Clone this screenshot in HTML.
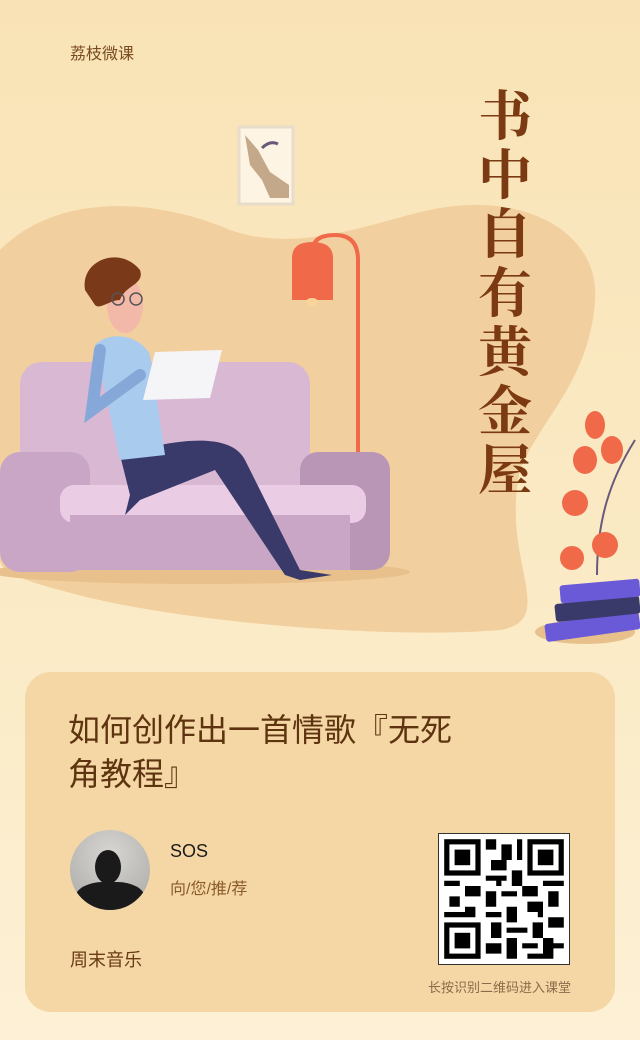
<!DOCTYPE html>
<html><head><meta charset="utf-8"><style>
body{margin:0;width:640px;height:1040px;overflow:hidden;background:linear-gradient(#f9e3b6,#fbecc9 70%,#fdf0d6);font-family:"Liberation Sans","Noto Sans CJK SC",sans-serif;position:relative}
.abs{position:absolute}
</style></head><body>
<div class="abs" style="left:70px;top:40px;font-size:16px;color:#7a4a20">荔枝微课</div>
<svg class="abs" style="left:0;top:0" width="640" height="660">
<path d="M0 250 C60 190 160 200 230 230 C300 255 380 220 430 210 C520 190 600 230 595 300 C590 380 540 420 520 470 C500 560 560 620 500 630 C380 640 160 620 60 590 C20 580 0 570 0 560 Z" fill="#f2cf9e"/>
<ellipse cx="200" cy="572" rx="210" ry="12" fill="#e8c08c"/>
<ellipse cx="585" cy="632" rx="50" ry="12" fill="#e8c08c"/>
<rect x="239" y="127" width="54" height="77" fill="#fdf4e4" stroke="#e8dccb" stroke-width="3"/>
<path d="M245 135 L250 165 L262 180 L270 198 L289 198 L289 185 L270 172 L258 150 Z" fill="#c4a88a"/>
<path d="M262 148 Q270 140 278 144" stroke="#6a5a7a" stroke-width="3" fill="none"/>
<path d="M313 270 L313 250 Q313 235 335 235 Q358 235 358 260 L358 455" stroke="#f06a4a" stroke-width="4" fill="none"/>
<path d="M292 300 L292 258 Q292 242 312 242 Q333 242 333 258 L333 300 Z" fill="#f06a4a"/>
<ellipse cx="312" cy="302" rx="6" ry="4" fill="#f9d49a"/>
<rect x="20" y="362" width="290" height="160" rx="22" fill="#d9b8d4"/>
<rect x="300" y="452" width="90" height="118" rx="18" fill="#b996b6"/>
<rect x="0" y="452" width="90" height="120" rx="20" fill="#c9a6c6"/>
<rect x="60" y="485" width="306" height="38" rx="14" fill="#eacce4"/>
<rect x="70" y="515" width="280" height="55" fill="#c9a6c6"/>
<path d="M120 455 C170 440 230 430 245 460 L300 570 L332 575 L300 580 L285 575 L215 470 L140 500 L125 515 L130 495 Z" fill="#3a3a6a"/>
<path d="M95 345 C110 330 140 335 150 355 L165 455 L120 460 Z" fill="#a8cbee"/>
<path d="M100 350 L92 410 L140 375" stroke="#86a8d8" stroke-width="12" fill="none" stroke-linecap="round"/>
<polygon points="155,352 222,350 210,398 143,400" fill="#f5f5f7"/>
<ellipse cx="125" cy="305" rx="18" ry="28" fill="#f2b8a8"/>
<path d="M85 290 C80 260 120 245 140 270 C145 285 125 285 120 300 C110 300 100 310 95 305 Z" fill="#7a3a1a"/>
<circle cx="118" cy="299" r="6" fill="none" stroke="#555" stroke-width="1.5"/><circle cx="136" cy="299" r="6" fill="none" stroke="#555" stroke-width="1.5"/>
<path d="M597 575 C597 520 610 480 635 440" stroke="#6a5a7a" stroke-width="2" fill="none"/>
<ellipse cx="595" cy="425" rx="10" ry="14" fill="#f06a4a"/><ellipse cx="612" cy="450" rx="11" ry="14" fill="#f06a4a"/>
<ellipse cx="585" cy="460" rx="12" ry="14" fill="#f06a4a"/><ellipse cx="575" cy="503" rx="13" ry="13" fill="#f06a4a"/>
<ellipse cx="605" cy="545" rx="13" ry="13" fill="#f06a4a"/><ellipse cx="572" cy="558" rx="12" ry="12" fill="#f06a4a"/>
<rect x="545" y="618" width="95" height="18" rx="3" fill="#6a5ad8" transform="rotate(-8 590 627)"/>
<rect x="555" y="600" width="85" height="18" rx="3" fill="#3a3a6a" transform="rotate(-6 595 609)"/>
<rect x="560" y="582" width="80" height="18" rx="3" fill="#6a5ad8" transform="rotate(-5 600 591)"/>
</svg>
<div class="abs" style="left:475px;top:88px;width:60px;font-family:'Liberation Serif','Noto Serif CJK SC',serif;font-size:54px;line-height:59px;font-weight:bold;color:#7b3a12;text-align:center">书<br>中<br>自<br>有<br>黄<br>金<br>屋</div>
<div class="abs" style="left:25px;top:672px;width:590px;height:340px;border-radius:26px;background:#f5d7a6"></div>
<div class="abs" style="left:68px;top:708px;width:410px;font-size:32px;line-height:44px;color:#5e3410">如何创作出一首情歌『无死角教程』</div>
<div class="abs" style="left:70px;top:830px;width:80px;height:80px;border-radius:50%;background:radial-gradient(circle at 50% 30%,#d8d6d2,#a8a6a2);overflow:hidden"><div style="position:absolute;left:25px;top:20px;width:26px;height:34px;border-radius:50%;background:#1a1a1a"></div><div style="position:absolute;left:5px;top:52px;width:70px;height:40px;border-radius:40% 40% 0 0;background:#1a1a1a"></div></div>
<div class="abs" style="left:170px;top:841px;font-size:18px;color:#1a1a1a">SOS</div>
<div class="abs" style="left:170px;top:875px;font-size:16px;color:#8a5a2a">向/您/推/荐</div>
<div class="abs" style="left:70px;top:946px;font-size:18px;color:#6a3a14">周末音乐</div>
<div class="abs" style="left:438px;top:833px;width:132px;height:132px;background:#fff;border:1px solid #333;box-sizing:border-box">
<svg width="130" height="130" viewBox="0 0 25 25" style="margin:0;display:block">
<g fill="#000">
<rect x="1" y="1" width="7" height="7"/><rect x="2" y="2" width="5" height="5" fill="#fff"/><rect x="3" y="3" width="3" height="3"/>
<rect x="17" y="1" width="7" height="7"/><rect x="18" y="2" width="5" height="5" fill="#fff"/><rect x="19" y="3" width="3" height="3"/>
<rect x="1" y="17" width="7" height="7"/><rect x="2" y="18" width="5" height="5" fill="#fff"/><rect x="3" y="19" width="3" height="3"/>
<path d="M9 1h2v2h-2zM12 2h2v3h-2zM15 1h1v4h-1zM10 5h3v2h-3zM9 8h4v1h-4zM14 7h2v3h-2zM1 9h3v1h-3zM5 10h3v2h-3zM2 12h2v2h-2zM9 11h2v3h-2zM12 11h3v1h-3zM16 10h3v2h-3zM20 9h4v1h-4zM21 11h2v3h-2zM17 13h3v2h-3zM13 14h2v3h-2zM9 15h3v1h-3zM1 15h4v1h-4zM5 14h2v2h-2zM10 17h2v3h-2zM13 18h4v1h-4zM18 17h2v3h-2zM21 16h3v2h-3zM9 21h3v2h-3zM13 20h2v4h-2zM16 21h3v1h-3zM20 20h2v4h-2zM17 23h3v1h-3zM22 21h2v1h-2zM11 9h1v1h-1zM19 15h1v1h-1z"/>
</g></svg></div>
<div class="abs" style="left:428px;top:977px;font-size:13px;color:#8a6a4a">长按识别二维码进入课堂</div>
</body></html>
